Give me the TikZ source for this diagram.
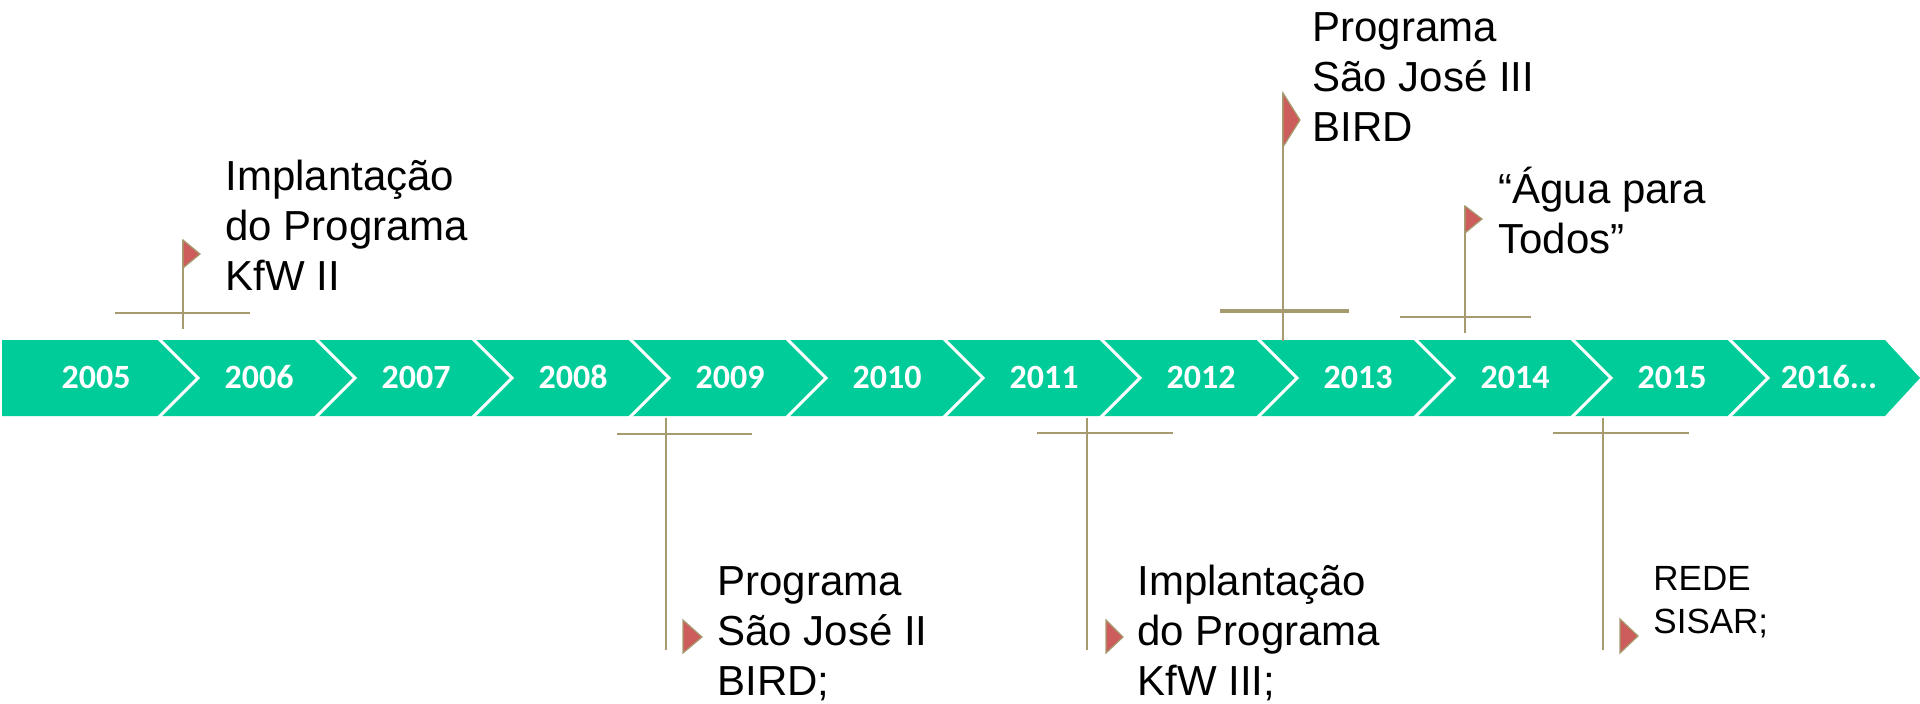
\documentclass[tikz,border=0pt]{standalone}
\usepackage{fontspec}
\setmainfont{Liberation Sans}
\newfontfamily\yearfont{Carlito}
\definecolor{ribbon}{HTML}{00CC99}
\definecolor{pole}{HTML}{A69B6E}
\definecolor{flagred}{HTML}{CD5C5C}
\newcommand{\evlines}[1]{\begin{tabular}[t]{@{}l@{}}#1\end{tabular}}
\begin{document}
\begin{tikzpicture}[x=0.5pt,y=-0.5pt,
  polel/.style={draw=pole,line width=1.25pt},
  thickbar/.style={draw=pole,line width=2.4pt},
  flagshape/.style={fill=flagred,draw=pole,line width=0.6pt,line join=miter},
  yearlbl/.style={text=white,font=\yearfont\bfseries\fontsize{17}{20}\selectfont,inner sep=0pt},
  evt/.style={anchor=base west,inner sep=0pt,font=\fontsize{21}{25}\selectfont},
  evtsmall/.style={anchor=base west,inner sep=0pt,font=\fontsize{17.5}{21.5}\selectfont}]
\useasboundingbox (0,0) rectangle (1920,703);
% ribbon
\fill[ribbon] (2,340) -- (1885,340) -- (1920,378) -- (1885,416) -- (2,416) -- cycle;
\foreach \k in {0,...,10}
  \draw[white,line width=1.5pt] ({158+157*\k},338) -- ({198+157*\k},378) -- ({158+157*\k},418);
% years
\node[yearlbl] (y2005) at (96,377) {2005};
\foreach \yr [count=\i from 0] in {2006,2007,2008,2009,2010,2011,2012,2013,2014,2015}
  \node[yearlbl] (y\yr) at ({259+157*\i},377) {\yr};
\node[yearlbl] (y2016) at (1829,377) {2016...};
% top marker 2006
\draw[polel] (115,313) -- (250,313);
\draw[polel] (183,240) -- (183,329);
\filldraw[flagshape] (183,240) -- (200,254) -- (183,268) -- cycle;
\node[evt] (t2006) at (225,190) {\evlines{Implantação\\do Programa\\KfW II}};
% top marker 2013
\draw[thickbar] (1220,311) -- (1349,311);
\draw[polel] (1283,93) -- (1283,341);
\filldraw[flagshape] (1283,93) -- (1300,120) -- (1283,147) -- cycle;
\node[evt] (t2013) at (1312,41) {\evlines{Programa\\São José III\\BIRD}};
% top marker 2014
\draw[polel] (1400,317) -- (1531,317);
\draw[polel] (1465,206) -- (1465,333);
\filldraw[flagshape] (1465,206) -- (1482,219) -- (1465,233) -- cycle;
\node[evt] (t2014) at (1498,203) {\evlines{“Água para\\Todos”}};
% bottom marker 2009
\draw[polel] (617,434) -- (752,434);
\draw[polel] (666,418) -- (666,650);
\filldraw[flagshape] (683,620) -- (702,637) -- (683,653) -- cycle;
\node[evt] (b2009) at (717,595) {\evlines{Programa\\São José II\\BIRD;}};
% bottom marker 2011
\draw[polel] (1037,433) -- (1173,433);
\draw[polel] (1087,418) -- (1087,650);
\filldraw[flagshape] (1106,620) -- (1123,637) -- (1106,653) -- cycle;
\node[evt] (b2011) at (1137,595) {\evlines{Implantação\\do Programa\\KfW III;}};
% bottom marker 2015
\draw[polel] (1553,433) -- (1689,433);
\draw[polel] (1603,418) -- (1603,650);
\filldraw[flagshape] (1620,619) -- (1638,636) -- (1620,653) -- cycle;
\node[evtsmall] (b2015) at (1653,590) {\evlines{REDE\\SISAR;}};
\end{tikzpicture}
\end{document}
